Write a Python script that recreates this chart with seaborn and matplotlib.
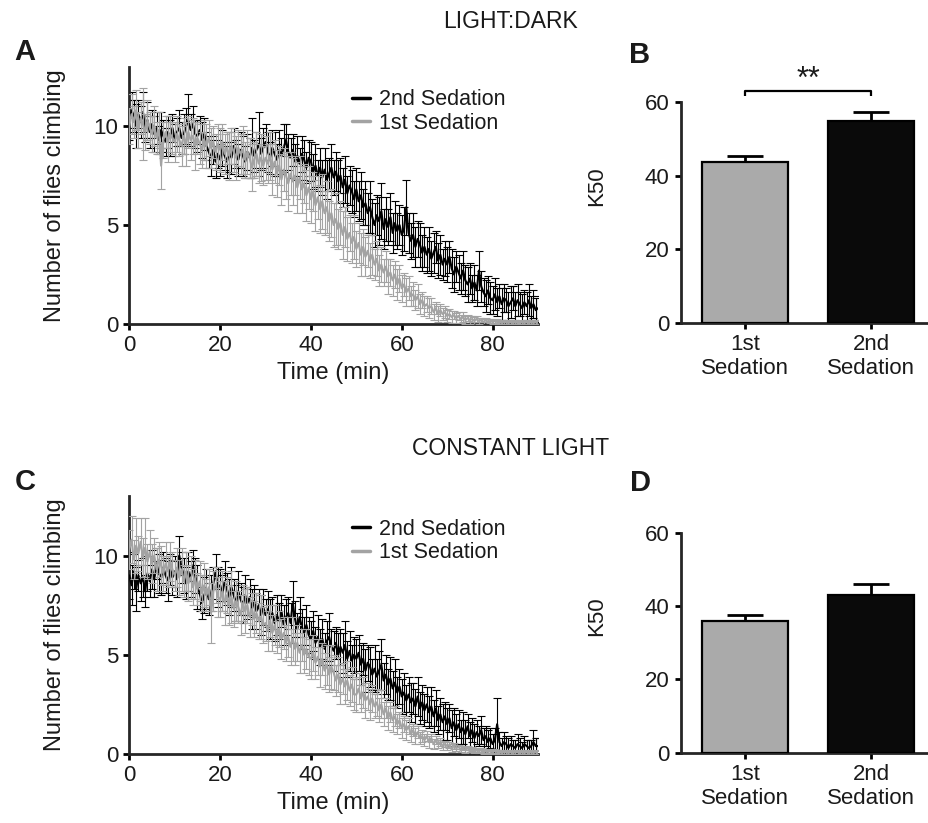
import matplotlib
matplotlib.use("Agg")
import matplotlib.pyplot as plt
import seaborn as sns
import pandas as pd

# ---------------- data (sampled every 0.5 min, 0 .. 90 min) ----------------
time_min = [i * 0.5 for i in range(181)]

ld_2nd_mean = [
    10.3, 10.8, 10.5, 10.0, 10.6, 10.2, 10.7, 9.9, 10.3, 9.7,
    10.1, 9.6, 9.9, 9.3, 9.8, 9.5, 9.2, 9.7, 9.4, 9.9,
    9.3, 9.7, 9.9, 9.4, 9.6, 10.0, 10.3, 9.8, 10.1, 9.6,
    9.5, 9.8, 9.3, 9.6, 9.0, 8.7, 8.4, 8.8, 8.2, 8.6,
    8.3, 8.9, 8.5, 8.2, 8.7, 8.4, 9.0, 8.6, 8.3, 8.8,
    8.5, 8.2, 8.7, 8.4, 8.9, 8.5, 8.8, 9.1, 8.6, 8.9,
    9.2, 8.7, 8.4, 8.9, 8.6, 8.3, 8.8, 8.5, 8.9, 9.3,
    8.7, 8.4, 8.8, 8.2, 8.5, 8.1, 8.6, 8.3, 7.9, 8.4,
    8.2, 7.7, 8.0, 7.5, 7.9, 7.4, 7.8, 7.3, 7.6, 7.9,
    7.4, 7.7, 7.2, 7.5, 6.9, 7.3, 6.6, 7.0, 6.7, 6.3,
    6.8, 6.2, 6.5, 5.9, 6.1, 5.6, 5.9, 5.4, 5.0, 5.5,
    5.2, 5.7, 4.8, 5.3, 4.9, 5.4, 4.6, 5.1, 4.7, 5.0,
    4.5, 4.8, 5.9, 4.6, 4.2, 4.5, 3.9, 4.3, 4.0, 3.6,
    3.9, 3.5, 3.8, 3.3, 3.6, 3.9, 3.2, 3.5, 3.0, 3.3,
    3.0, 3.4, 2.8, 2.5, 2.9, 2.6, 2.3, 2.7, 2.2, 2.0,
    2.3, 1.8, 2.1, 1.7, 2.7, 1.9, 1.6, 1.4, 1.7, 1.3,
    1.2, 1.5, 1.1, 1.4, 1.0, 1.3, 1.2, 0.9, 1.1, 1.3,
    0.9, 1.2, 1.0, 0.8, 1.1, 0.9, 1.2, 0.8, 1.0, 0.7,
    0.8]
ld_2nd_sem = [
    1.0, 0.9, 0.8, 1.1, 0.7, 0.8, 1.0, 0.7, 0.9, 0.8,
    0.7, 0.9, 0.8, 0.7, 0.9, 0.8, 0.7, 0.8, 0.9, 0.7,
    0.8, 0.7, 0.9, 0.8, 1.0, 0.9, 1.3, 0.8, 0.9, 0.7,
    0.8, 0.7, 0.9, 0.8, 0.7, 0.8, 0.9, 0.7, 0.8, 0.7,
    0.8, 0.9, 0.7, 0.8, 1.0, 0.8, 0.9, 0.7, 0.8, 0.9,
    1.0, 0.8, 0.9, 1.0, 1.5, 0.8, 0.9, 1.6, 0.8, 1.0,
    0.9, 1.0, 0.8, 0.9, 1.1, 0.8, 1.0, 0.9, 1.2, 0.8,
    0.9, 1.0, 0.8, 0.9, 1.0, 0.8, 0.9, 1.0, 0.8, 0.9,
    1.0, 0.9, 1.1, 0.8, 1.0, 0.9, 1.1, 1.0, 0.8, 1.2,
    0.9, 1.0, 1.1, 0.9, 1.0, 1.2, 0.9, 1.0, 1.1, 0.9,
    1.1, 1.0, 1.2, 0.9, 1.1, 1.0, 1.3, 0.9, 1.1, 1.0,
    1.2, 1.4, 1.0, 1.1, 0.9, 1.2, 1.0, 1.1, 0.9, 1.0,
    1.0, 1.1, 1.4, 1.0, 0.9, 1.1, 1.0, 0.9, 1.1, 0.9,
    1.0, 0.9, 1.1, 0.9, 1.0, 0.8, 0.9, 1.0, 0.8, 0.9,
    0.9, 0.8, 1.0, 0.9, 0.8, 0.9, 0.8, 1.0, 0.8, 0.9,
    0.8, 0.7, 0.9, 0.8, 1.0, 0.8, 0.7, 0.8, 0.7, 0.8,
    0.7, 0.8, 0.7, 0.6, 0.8, 0.7, 0.6, 0.7, 0.8, 0.6,
    0.7, 0.8, 0.6, 0.7, 0.6, 0.7, 0.8, 0.6, 0.7, 0.6,
    0.6]
ld_1st_mean = [
    10.0, 10.6, 10.2, 10.8, 9.8, 10.4, 10.1, 9.7, 10.3, 9.9,
    9.6, 10.0, 9.4, 9.8, 8.0, 9.3, 9.7, 9.2, 9.6, 9.4,
    9.2, 9.6, 9.3, 9.0, 9.5, 9.1, 9.7, 9.3, 9.5, 9.0,
    9.4, 9.1, 8.8, 9.3, 9.0, 9.4, 8.9, 9.2, 8.7, 9.1,
    8.8, 9.2, 8.6, 8.9, 8.5, 9.0, 8.7, 8.4, 8.9, 8.6,
    8.8, 8.3, 8.7, 8.4, 7.9, 8.3, 8.6, 8.1, 8.4, 8.0,
    8.4, 8.1, 8.5, 7.8, 8.2, 7.6, 8.0, 7.3, 7.8, 7.5,
    7.1, 7.6, 7.2, 7.5, 6.9, 7.4, 6.8, 7.1, 6.5, 6.9,
    6.3, 6.7, 6.0, 6.4, 5.8, 6.2, 5.6, 5.9, 5.2, 5.6,
    5.0, 5.3, 4.8, 5.1, 4.5, 4.9, 4.3, 4.6, 4.1, 4.4,
    3.8, 4.1, 3.5, 3.9, 3.4, 3.7, 3.2, 3.5, 3.0, 3.3,
    2.7, 3.0, 2.6, 2.9, 2.4, 2.6, 2.2, 2.5, 2.0, 2.3,
    1.8, 2.0, 1.6, 1.8, 1.4, 1.5, 1.2, 1.4, 1.0, 1.2,
    0.9, 1.0, 0.8, 0.9, 0.6, 0.8, 0.5, 0.7, 0.5, 0.6,
    0.4, 0.5, 0.35, 0.45, 0.3, 0.4, 0.25, 0.35, 0.2, 0.3,
    0.2, 0.25, 0.15, 0.25, 0.15, 0.2, 0.1, 0.2, 0.1, 0.15,
    0.1, 0.15, 0.1, 0.1, 0.05, 0.1, 0.1, 0.05, 0.1, 0.05,
    0.1, 0.05, 0.05, 0.1, 0.05, 0.1, 0.05, 0.1, 0.05, 0.1,
    0.05]
ld_1st_sem = [
    0.9, 1.0, 0.8, 1.0, 0.9, 0.8, 1.8, 0.9, 1.0, 0.8,
    0.9, 1.0, 0.8, 0.9, 1.2, 0.9, 0.8, 1.0, 0.9, 0.8,
    1.0, 0.9, 0.8, 1.0, 0.9, 1.1, 0.8, 1.0, 0.9, 1.2,
    0.8, 1.0, 0.9, 1.0, 1.1, 0.9, 1.0, 0.8, 0.9, 1.0,
    1.1, 0.9, 1.0, 0.8, 1.2, 0.9, 1.0, 1.1, 0.9, 1.0,
    1.2, 0.9, 1.1, 1.0, 1.2, 0.9, 1.1, 1.0, 1.2, 1.0,
    1.1, 1.0, 1.2, 1.3, 1.1, 1.2, 1.0, 1.3, 1.1, 1.2,
    1.4, 1.1, 1.2, 1.0, 1.3, 1.1, 1.2, 1.0, 1.3, 1.1,
    1.2, 1.0, 1.3, 1.1, 1.2, 1.4, 1.1, 1.3, 1.0, 1.2,
    1.1, 1.3, 1.0, 1.1, 1.2, 1.0, 1.1, 0.9, 1.0, 1.1,
    0.9, 1.0, 1.1, 0.9, 1.0, 0.8, 0.9, 1.0, 0.8, 0.9,
    0.8, 0.9, 0.7, 0.8, 0.9, 0.7, 0.8, 0.7, 0.8, 0.7,
    0.7, 0.6, 0.7, 0.6, 0.5, 0.6, 0.5, 0.6, 0.5, 0.4,
    0.5, 0.4, 0.5, 0.4, 0.4, 0.3, 0.4, 0.3, 0.3, 0.3,
    0.3, 0.25, 0.3, 0.2, 0.25, 0.2, 0.2, 0.25, 0.2, 0.15,
    0.2, 0.15, 0.2, 0.15, 0.15, 0.1, 0.15, 0.1, 0.15, 0.1,
    0.1, 0.1, 0.15, 0.1, 0.1, 0.1, 0.1, 0.1, 0.1, 0.1,
    0.1, 0.1, 0.1, 0.1, 0.1, 0.1, 0.1, 0.1, 0.1, 0.1,
    0.1]

ll_2nd_mean = [
    9.0, 8.5, 9.2, 8.3, 9.0, 8.6, 8.9, 8.2, 9.1, 8.7,
    9.3, 8.8, 9.6, 9.1, 8.9, 9.4, 9.0, 8.7, 9.3, 8.9,
    9.2, 8.8, 10.0, 9.4, 9.0, 8.6, 9.2, 8.8, 9.5, 9.0,
    8.4, 8.1, 7.6, 8.0, 8.3, 7.8, 8.1, 8.6, 9.2, 8.4,
    8.5, 8.1, 8.7, 8.3, 7.9, 8.4, 8.0, 7.6, 8.2, 7.8,
    7.5, 8.0, 7.6, 7.9, 7.3, 7.7, 7.2, 7.5, 7.0, 7.4,
    7.0, 7.3, 6.8, 7.1, 6.6, 7.0, 6.7, 7.2, 6.5, 6.9,
    7.1, 6.6, 7.6, 6.8, 6.3, 6.9, 6.4, 6.1, 6.5, 6.0,
    5.8, 6.2, 5.6, 5.9, 5.4, 5.8, 5.3, 5.7, 5.9, 5.4,
    5.2, 5.6, 5.0, 5.4, 5.1, 5.5, 4.8, 5.2, 4.7, 5.0,
    4.8, 5.1, 4.5, 4.8, 4.2, 4.6, 4.4, 4.0, 4.3, 3.9,
    4.2, 4.5, 3.7, 4.0, 3.5, 3.8, 3.3, 3.6, 3.1, 3.4,
    2.9, 3.1, 2.7, 3.0, 2.6, 2.8, 2.4, 2.9, 2.3, 2.6,
    2.2, 2.5, 2.1, 2.4, 1.9, 2.3, 1.7, 2.0, 1.6, 1.9,
    1.5, 1.8, 1.3, 1.6, 1.2, 1.5, 1.1, 1.3, 1.0, 1.4,
    0.9, 1.2, 0.8, 1.1, 0.9, 1.2, 0.7, 0.9, 0.6, 0.8,
    0.5, 0.7, 1.5, 0.6, 0.4, 0.6, 0.5, 0.3, 0.5, 0.4,
    0.3, 0.5, 0.4, 0.3, 0.5, 0.4, 0.3, 0.4, 0.6, 0.4,
    0.4]
ll_2nd_sem = [
    1.2, 1.0, 0.9, 1.1, 0.8, 0.9, 1.0, 0.8, 0.9, 0.8,
    1.0, 0.9, 0.8, 1.0, 0.9, 0.8, 0.9, 1.0, 0.8, 0.9,
    0.8, 0.9, 1.0, 0.8, 0.9, 0.8, 1.0, 0.9, 0.8, 0.9,
    1.1, 0.9, 0.8, 0.9, 1.0, 0.8, 0.9, 0.8, 0.9, 1.0,
    0.8, 0.9, 1.0, 0.8, 0.9, 1.0, 0.8, 0.9, 1.0, 0.8,
    0.9, 1.0, 0.8, 0.9, 1.0, 0.8, 0.9, 0.8, 1.0, 0.9,
    0.8, 0.9, 1.0, 0.8, 0.9, 1.0, 0.9, 0.8, 1.0, 0.9,
    0.8, 1.0, 1.1, 0.9, 0.8, 1.0, 0.9, 0.8, 1.0, 0.9,
    0.9, 1.0, 0.8, 1.1, 0.9, 1.0, 0.8, 1.0, 1.2, 0.9,
    1.0, 0.8, 1.1, 0.9, 1.0, 1.2, 0.9, 1.0, 0.8, 0.9,
    1.0, 0.9, 1.0, 0.8, 1.1, 0.9, 1.0, 0.8, 1.2, 0.9,
    1.0, 1.3, 0.9, 1.0, 0.8, 1.1, 0.9, 1.2, 0.8, 0.9,
    0.9, 1.0, 0.8, 0.9, 1.0, 0.8, 0.9, 1.0, 0.8, 0.9,
    0.8, 0.9, 0.8, 1.0, 0.8, 0.9, 0.7, 0.8, 0.9, 0.7,
    0.8, 0.7, 0.9, 0.7, 0.8, 0.7, 0.6, 0.8, 0.7, 0.6,
    0.7, 0.6, 0.7, 0.6, 0.5, 0.7, 0.6, 0.5, 0.6, 0.5,
    0.5, 0.6, 1.3, 0.5, 0.4, 0.5, 0.4, 0.5, 0.4, 0.3,
    0.4, 0.5, 0.4, 0.3, 0.4, 0.3, 0.4, 0.3, 0.6, 0.4,
    0.4]
ll_1st_mean = [
    10.3, 10.8, 9.8, 10.5, 10.1, 10.7, 9.9, 10.4, 9.7, 10.2,
    9.6, 10.0, 9.3, 9.8, 9.5, 9.1, 9.6, 9.2, 9.7, 9.3,
    9.0, 9.4, 8.9, 9.3, 8.7, 9.2, 8.6, 8.9, 8.4, 8.8,
    8.3, 8.7, 8.1, 8.5, 8.0, 8.4, 7.1, 8.2, 8.5, 7.9,
    7.8, 8.2, 7.6, 8.0, 7.5, 7.9, 7.3, 7.7, 7.4, 7.0,
    7.6, 7.2, 7.5, 6.9, 7.3, 6.8, 7.1, 6.7, 6.9, 6.5,
    6.6, 6.2, 6.7, 6.1, 6.5, 5.9, 6.3, 5.8, 6.1, 5.6,
    5.9, 5.4, 5.8, 5.3, 5.6, 5.1, 5.5, 5.0, 5.3, 4.9,
    4.8, 5.1, 4.6, 4.9, 4.4, 4.8, 4.2, 4.5, 4.0, 4.4,
    4.1, 3.7, 4.0, 3.5, 3.8, 3.4, 3.7, 3.2, 3.5, 3.0,
    3.0, 3.3, 2.8, 3.1, 2.7, 2.9, 2.5, 2.8, 2.4, 2.6,
    2.2, 2.5, 2.0, 2.3, 1.8, 2.1, 1.7, 1.9, 1.5, 1.7,
    1.3, 1.5, 1.2, 1.4, 1.0, 1.2, 0.9, 1.1, 0.8, 0.9,
    0.7, 0.9, 0.6, 0.8, 0.5, 0.7, 0.5, 0.6, 0.4, 0.5,
    0.4, 0.45, 0.3, 0.4, 0.3, 0.35, 0.25, 0.3, 0.2, 0.3,
    0.2, 0.25, 0.15, 0.2, 0.15, 0.2, 0.1, 0.15, 0.1, 0.15,
    0.1, 0.15, 0.1, 0.1, 0.05, 0.1, 0.1, 0.05, 0.1, 0.05,
    0.1, 0.1, 0.05, 0.1, 0.05, 0.1, 0.05, 0.1, 0.05, 0.1,
    0.05]
ll_1st_sem = [
    1.0, 1.2, 1.0, 1.4, 0.9, 1.2, 1.0, 1.5, 0.9, 1.1,
    1.0, 0.9, 1.1, 0.9, 1.0, 0.9, 1.1, 0.8, 1.0, 0.9,
    0.8, 1.0, 0.9, 1.1, 0.8, 1.0, 0.9, 1.1, 0.9, 1.0,
    0.8, 1.0, 0.9, 1.1, 0.8, 0.9, 1.5, 1.0, 0.9, 1.0,
    0.9, 1.0, 1.1, 0.9, 1.0, 1.3, 0.9, 1.0, 0.8, 1.0,
    0.9, 1.1, 0.9, 1.0, 0.8, 0.9, 1.0, 0.9, 1.1, 0.9,
    0.9, 1.0, 0.8, 0.9, 1.0, 0.8, 0.9, 1.0, 0.8, 0.9,
    1.0, 0.9, 1.1, 0.8, 0.9, 1.0, 0.8, 0.9, 1.0, 0.9,
    1.0, 0.9, 0.8, 0.9, 1.0, 0.8, 0.9, 1.0, 0.9, 1.1,
    0.9, 0.8, 0.9, 1.0, 0.8, 0.9, 1.0, 0.8, 0.9, 0.8,
    0.9, 0.8, 0.7, 0.8, 0.9, 0.7, 0.8, 0.7, 0.6, 0.7,
    0.6, 0.7, 0.6, 0.5, 0.6, 0.5, 0.6, 0.5, 0.5, 0.4,
    0.5, 0.4, 0.5, 0.4, 0.4, 0.3, 0.4, 0.3, 0.3, 0.3,
    0.3, 0.25, 0.3, 0.2, 0.25, 0.2, 0.2, 0.2, 0.2, 0.15,
    0.2, 0.15, 0.2, 0.15, 0.15, 0.1, 0.15, 0.1, 0.15, 0.1,
    0.1, 0.1, 0.1, 0.1, 0.1, 0.1, 0.1, 0.1, 0.1, 0.1,
    0.1, 0.1, 0.1, 0.1, 0.1, 0.1, 0.1, 0.1, 0.1, 0.1,
    0.1, 0.1, 0.1, 0.1, 0.1, 0.1, 0.1, 0.1, 0.1, 0.1,
    0.1]

bar_categories = ["1st\nSedation", "2nd\nSedation"]
ld_k50_mean = [43.7, 54.9]
ld_k50_sem = [1.7, 2.4]
ll_k50_mean = [36.1, 43.1]
ll_k50_sem = [1.5, 3.1]

series_labels = ["2nd Sedation", "1st Sedation"]
x_ticks = [0, 20, 40, 60, 80]
y_ticks_ts = [0, 5, 10]
y_ticks_bar = [0, 20, 40, 60]

for name, arr in [("ld_2nd_mean", ld_2nd_mean), ("ld_2nd_sem", ld_2nd_sem),
                  ("ld_1st_mean", ld_1st_mean), ("ld_1st_sem", ld_1st_sem),
                  ("ll_2nd_mean", ll_2nd_mean), ("ll_2nd_sem", ll_2nd_sem),
                  ("ll_1st_mean", ll_1st_mean), ("ll_1st_sem", ll_1st_sem)]:
    if len(arr) != len(time_min):
        raise ValueError(f"{name} has {len(arr)} values")

# ---------------- style ----------------
sns.set_style("ticks")
plt.rcParams["font.family"] = ["Liberation Sans", "DejaVu Sans"]
plt.rcParams["axes.linewidth"] = 2.0
plt.rcParams["text.color"] = "#1a1a1a"
plt.rcParams["axes.labelcolor"] = "#1a1a1a"
plt.rcParams["xtick.color"] = "black"
plt.rcParams["ytick.color"] = "black"
plt.rcParams["xtick.labelcolor"] = "#1a1a1a"
plt.rcParams["ytick.labelcolor"] = "#1a1a1a"

GRAY_LINE = "#a3a3a3"
GRAY_BAR = "#aaaaaa"
BLACK = "#000000"

W, H = 929, 823
fig = plt.figure(figsize=(W / 100, H / 100), dpi=100)


def px_axes(left, top, right, bottom):
    return fig.add_axes([left / W, (H - bottom) / H, (right - left) / W, (bottom - top) / H])


def ts_panel(ax, m2, e2, m1, e1):
    ax.errorbar(time_min, m2, yerr=e2, fmt="none", ecolor=BLACK, elinewidth=0.8,
                capsize=2.6, capthick=0.8, zorder=2)
    sns.lineplot(x=time_min, y=m2, color=BLACK, lw=1.5, ax=ax, label=series_labels[0], zorder=3)
    ax.errorbar(time_min, m1, yerr=e1, fmt="none", ecolor=GRAY_LINE, elinewidth=0.8,
                capsize=2.6, capthick=0.8, zorder=4)
    sns.lineplot(x=time_min, y=m1, color=GRAY_LINE, lw=1.5, ax=ax, label=series_labels[1], zorder=5)
    ax.set_xlim(0, 90)
    ax.set_ylim(0, 13)
    ax.set_xticks(x_ticks)
    ax.set_yticks(y_ticks_ts)
    ax.tick_params(direction="out", length=4, width=2, labelsize=16, pad=4)
    ax.set_xlabel("Time (min)", fontsize=17, labelpad=4)
    ax.set_ylabel("Number of flies climbing", fontsize=17)
    ax.yaxis.set_label_coords(-0.155, 0.5)
    sns.despine(ax=ax)
    leg = ax.legend(loc="center left", bbox_to_anchor=(0.545, 0.826), frameon=False,
                    fontsize=15.5, handlelength=0.85, handletextpad=0.4,
                    labelspacing=0.12, borderpad=0, borderaxespad=0)
    for line in leg.get_lines():
        line.set_linewidth(2.5)


def bar_panel(ax, means, sems):
    df = pd.DataFrame({"group": bar_categories, "k50": means})
    sns.barplot(data=df, x="group", y="k50", hue="group",
                palette=[GRAY_BAR, "#0a0a0a"], legend=False, width=0.675,
                edgecolor="black", linewidth=1.6, ax=ax, zorder=3)
    ax.errorbar([0, 1], means, yerr=[[0, 0], sems], fmt="none", ecolor="black",
                elinewidth=2.0, capsize=13, capthick=2.0, zorder=2)
    ax.set_xlim(-0.51, 1.46)
    ax.set_ylim(0, 60)
    ax.set_yticks(y_ticks_bar)
    ax.tick_params(direction="out", length=4, width=2, labelsize=16, pad=4)
    ax.set_xlabel("")
    ax.set_ylabel("K50", fontsize=16)
    ax.yaxis.set_label_coords(-0.295, 0.62)
    sns.despine(ax=ax)


axA = px_axes(129.3, 66.7, 538, 324)
ts_panel(axA, ld_2nd_mean, ld_2nd_sem, ld_1st_mean, ld_1st_sem)

axC = px_axes(129.3, 496, 538, 754)
ts_panel(axC, ll_2nd_mean, ll_2nd_sem, ll_1st_mean, ll_1st_sem)

axB = px_axes(680.7, 102, 929, 323)
bar_panel(axB, ld_k50_mean, ld_k50_sem)

axD = px_axes(680.7, 533, 929, 752.7)
bar_panel(axD, ll_k50_mean, ll_k50_sem)

# significance bracket on B
axB.plot([0, 0, 1, 1], [61.5, 63.0, 63.0, 61.5], color="black", lw=1.6,
         clip_on=False, solid_capstyle="butt")
axB.text(0.5, 62.0, "**", ha="center", va="bottom", fontsize=22, clip_on=False)

# titles and panel letters
fig.text(511 / W, 1 - 21 / H, "LIGHT:DARK", ha="center", va="center", fontsize=16.5)
fig.text(511 / W, 1 - 449 / H, "CONSTANT LIGHT", ha="center", va="center", fontsize=16.5)
for letter, (x, y) in {"A": (25, 52), "B": (640, 55), "C": (25, 482), "D": (640, 483)}.items():
    fig.text(x / W, 1 - y / H, letter, ha="center", va="center", fontsize=21,
             fontweight="bold", color="#1a1a1a")

fig.savefig("out.png", dpi=100)
